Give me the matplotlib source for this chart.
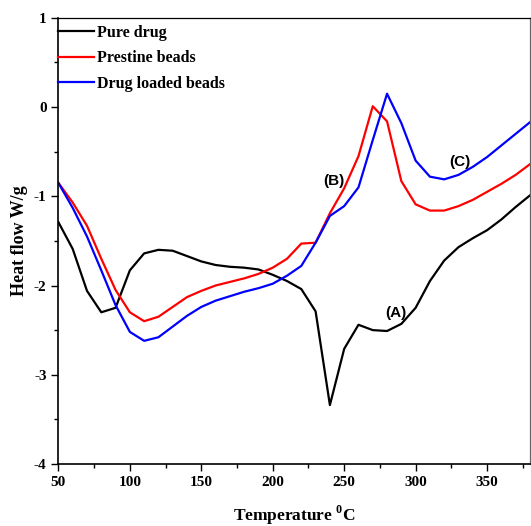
import numpy as np
import matplotlib.pyplot as plt
from matplotlib.ticker import MultipleLocator

# temperature (deg C)
temp = np.arange(50, 390, 10)

# heat flow (W/g)
pure_drug = [-1.29, -1.59, -2.06, -2.30, -2.25, -1.83, -1.64, -1.60, -1.61, -1.67,
             -1.73, -1.77, -1.79, -1.80, -1.82, -1.88, -1.95, -2.04, -2.29, -3.34,
             -2.71, -2.44, -2.50, -2.51, -2.43, -2.25, -1.95, -1.72, -1.57, -1.47,
             -1.38, -1.26, -1.12, -0.99]
prestine = [-0.85, -1.07, -1.33, -1.70, -2.05, -2.30, -2.40, -2.35, -2.24, -2.13,
            -2.06, -2.00, -1.96, -1.92, -1.87, -1.80, -1.70, -1.53, -1.52, -1.19,
            -0.91, -0.55, 0.01, -0.16, -0.83, -1.09, -1.16, -1.16, -1.11, -1.04,
            -0.95, -0.86, -0.76, -0.64]
drug_loaded = [-0.85, -1.13, -1.45, -1.83, -2.22, -2.52, -2.62, -2.58, -2.46, -2.34,
               -2.24, -2.17, -2.12, -2.07, -2.03, -1.98, -1.89, -1.78, -1.52, -1.22,
               -1.11, -0.90, -0.37, 0.15, -0.18, -0.60, -0.78, -0.81, -0.76, -0.67,
               -0.56, -0.43, -0.30, -0.17]

labels = ['Pure drug', 'Prestine beads', 'Drug loaded beads']
colors = ['black', 'red', 'blue']

plt.rcParams['font.family'] = 'Liberation Serif'
plt.rcParams['font.weight'] = 'bold'
plt.rcParams['axes.unicode_minus'] = False
plt.rcParams['mathtext.fontset'] = 'custom'
plt.rcParams['mathtext.rm'] = 'Liberation Serif:bold'
plt.rcParams['mathtext.bf'] = 'Liberation Serif:bold'

fig = plt.figure(figsize=(5.31, 5.26), dpi=100)
ax = fig.add_axes([0.110, 0.118, 0.888, 0.848])

for y, lab, c in zip([pure_drug, prestine, drug_loaded], labels, colors):
    ax.plot(temp, y, color=c, lw=1.6, label=lab)

# peak labels
for px, py, t in [(243, -0.83, '(B)'), (331, -0.62, '(C)'), (286, -2.31, '(A)')]:
    ax.text(px, py, t, family='Liberation Sans', fontweight='bold', fontsize=11,
            ha='center', va='center')

ax.set_xlim(50, 380)
ax.set_ylim(-4, 1)
ax.xaxis.set_major_locator(MultipleLocator(50))
ax.xaxis.set_minor_locator(MultipleLocator(25))
ax.yaxis.set_major_locator(MultipleLocator(1))
ax.yaxis.set_minor_locator(MultipleLocator(0.5))
ax.tick_params(which='major', direction='out', length=5, width=1, labelsize=11)
ax.tick_params(which='minor', direction='out', length=3, width=1)
ax.tick_params(top=False, right=False)
for s in ['left', 'bottom']:
    ax.spines[s].set_linewidth(1.2)
for s in ['top', 'right']:
    ax.spines[s].set_linewidth(0.9)
ax.spines['right'].set_color('#666666')

ax.set_xlabel(r'Temperature $^{0}$C', fontsize=12.5, fontweight='bold', labelpad=11)
ax.set_ylabel('Heat flow W/g', fontsize=13, fontweight='bold', labelpad=4)

leg = ax.legend(loc='upper left', frameon=False, fontsize=11.5, handlelength=2.2,
                handletextpad=0.2, borderaxespad=0.0, borderpad=0.0, labelspacing=0.6,
                bbox_to_anchor=(0.0, 0.985))

fig.savefig('out.png', dpi=100)
